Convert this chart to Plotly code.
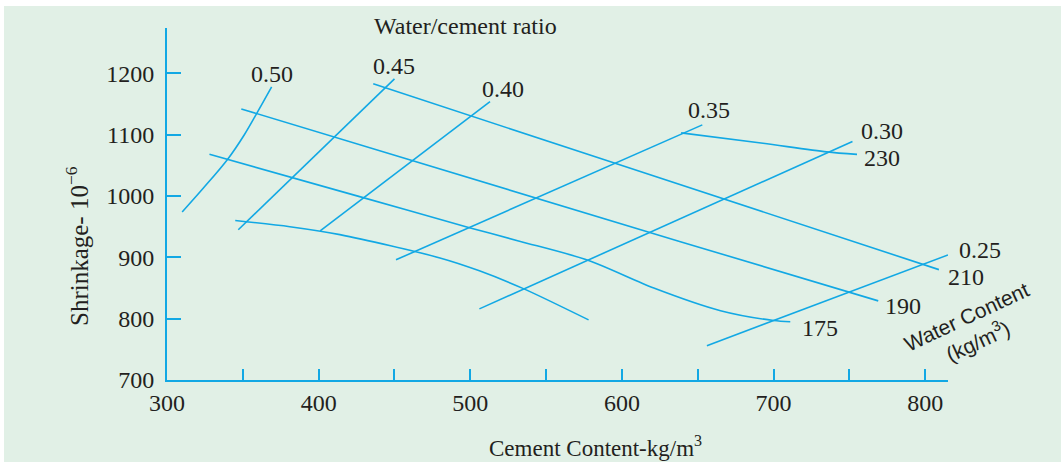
import plotly.graph_objects as go

# shrinkage (x10^-6) against cement content (kg/m3)
wc_ratio = ["0.50", "0.45", "0.40", "0.35", "0.30", "0.25"]
wc_cement = [
    [310, 324, 340, 351, 359, 369],
    [347, 450],
    [401, 513],
    [451, 653],
    [506, 752],
    [656, 815],
]
wc_shrinkage = [
    [974, 1013, 1060, 1100, 1134, 1178],
    [945, 1191],
    [943, 1154],
    [896, 1116],
    [816, 1089],
    [756, 904],
]

water_content = ["230", "210", "190", "175", None]
water_cement = [
    [639, 693, 735, 755],
    [436, 596, 809],
    [349, 638, 769],
    [328, 427, 500, 533, 578, 621, 665, 700, 711],
    [345, 381, 414, 480, 506, 535, 578],
]
water_shrinkage = [
    [1103, 1086, 1072, 1068],
    [1183, 1053, 880],
    [1142, 926, 829],
    [1068, 999, 948, 926, 895, 850, 813, 797, 795],
    [960, 950, 937, 899, 878, 849, 798],
]

x_ticks = [300, 400, 500, 600, 700, 800]
y_ticks = [700, 800, 900, 1000, 1100, 1200]

CYAN = "#12A8E4"
INK = "#231F20"
GREEN = "#E1F0E6"
SERIF = "Liberation Serif, Times New Roman, serif"
SANS = "Liberation Sans, Arial, sans-serif"

W, H = 1061, 462
L, R, T, B = 167, 113, 28, 82
PW, PH = W - L - R, H - T - B

# where each curve label sits relative to the curve end (pixels)
wc_label_pos = {
    "0.50": ("center", 0, 13),
    "0.45": ("center", 0, 13),
    "0.40": ("center", 13, 13),
    "0.35": ("center", 7, 15),
    "0.30": ("left", 7, 10),
    "0.25": ("left", 9, 5),
}
water_label_pos = {
    "230": ("left", 5, -4),
    "210": ("left", 7, -7),
    "190": ("left", 5, -5),
    "175": ("left", 10, -6),
}

fig = go.Figure()
annotations = []

for name, xs, ys in zip(wc_ratio, wc_cement, wc_shrinkage):
    fig.add_trace(go.Scatter(x=xs, y=ys, mode="lines", name=name,
                             line=dict(color=CYAN, width=1.6, shape="spline")))
    anchor, dx, dy = wc_label_pos[name]
    annotations.append(dict(x=xs[-1], y=ys[-1], text=name, showarrow=False,
                            xanchor=anchor, yanchor="middle", xshift=dx, yshift=dy,
                            font=dict(family=SERIF, size=24, color=INK)))

for name, xs, ys in zip(water_content, water_cement, water_shrinkage):
    fig.add_trace(go.Scatter(x=xs, y=ys, mode="lines", name=name or "",
                             line=dict(color=CYAN, width=1.6, shape="spline", smoothing=0.8)))
    if name:
        anchor, dx, dy = water_label_pos[name]
        annotations.append(dict(x=xs[-1], y=ys[-1], text=name, showarrow=False,
                                xanchor=anchor, yanchor="middle", xshift=dx, yshift=dy,
                                font=dict(family=SERIF, size=24, color=INK)))


def px(xp, yp):
    return (xp - L) / PW, (H - B - yp) / PH


tx, ty = px(465, 26)
annotations.append(dict(x=tx, y=ty, xref="paper", yref="paper", text="Water/cement ratio",
                        showarrow=False, xanchor="center", yanchor="middle",
                        font=dict(family=SERIF, size=24, color=INK)))
tx, ty = px(595, 446)
annotations.append(dict(x=tx, y=ty, xref="paper", yref="paper",
                        text="Cement Content-kg/m<sup>3</sup>",
                        showarrow=False, xanchor="center", yanchor="middle",
                        font=dict(family=SERIF, size=23, color=INK)))
tx, ty = px(77, 246)
annotations.append(dict(x=tx, y=ty, xref="paper", yref="paper",
                        text="Shrinkage- 10<sup>\u22126</sup>", textangle=-90,
                        showarrow=False, xanchor="center", yanchor="middle",
                        font=dict(family=SERIF, size=25, color=INK)))
tx, ty = px(972, 329)
annotations.append(dict(x=tx, y=ty, xref="paper", yref="paper",
                        text="Water Content<br>(kg/m<sup>3</sup>)", textangle=-25,
                        showarrow=False, xanchor="center", yanchor="middle",
                        font=dict(family=SANS, size=21, color=INK)))

x0, y1 = px(4, 6)
x1, y0 = px(W, H)
fig.add_shape(type="rect", xref="paper", yref="paper", x0=x0, x1=x1 + 0.05,
              y0=y0 - 0.05, y1=y1, fillcolor=GREEN, line_width=0, layer="below")

axis_common = dict(showline=True, linecolor=CYAN, linewidth=2, showgrid=False,
                   zeroline=False, ticks="inside", tickcolor=CYAN, tickwidth=2,
                   tickfont=dict(family=SERIF, size=24, color=INK))

fig.update_xaxes(range=[300, 815], tickvals=x_ticks, ticklen=11,
                 minor=dict(tickvals=[350, 450, 550, 650, 750], ticks="inside",
                            ticklen=11, tickwidth=2, tickcolor=CYAN),
                 ticklabelstandoff=0, **axis_common)
fig.update_yaxes(range=[700, 1274], tickvals=y_ticks, ticklen=14,
                 ticklabelstandoff=6, **axis_common)

fig.update_layout(width=W, height=H, autosize=False,
                  margin=dict(l=L, r=R, t=T, b=B),
                  paper_bgcolor="white", plot_bgcolor="rgba(0,0,0,0)",
                  showlegend=False, annotations=annotations)

fig.write_html("out.html", config={"displayModeBar": False},
               post_script="document.body.style.margin = '0';")
